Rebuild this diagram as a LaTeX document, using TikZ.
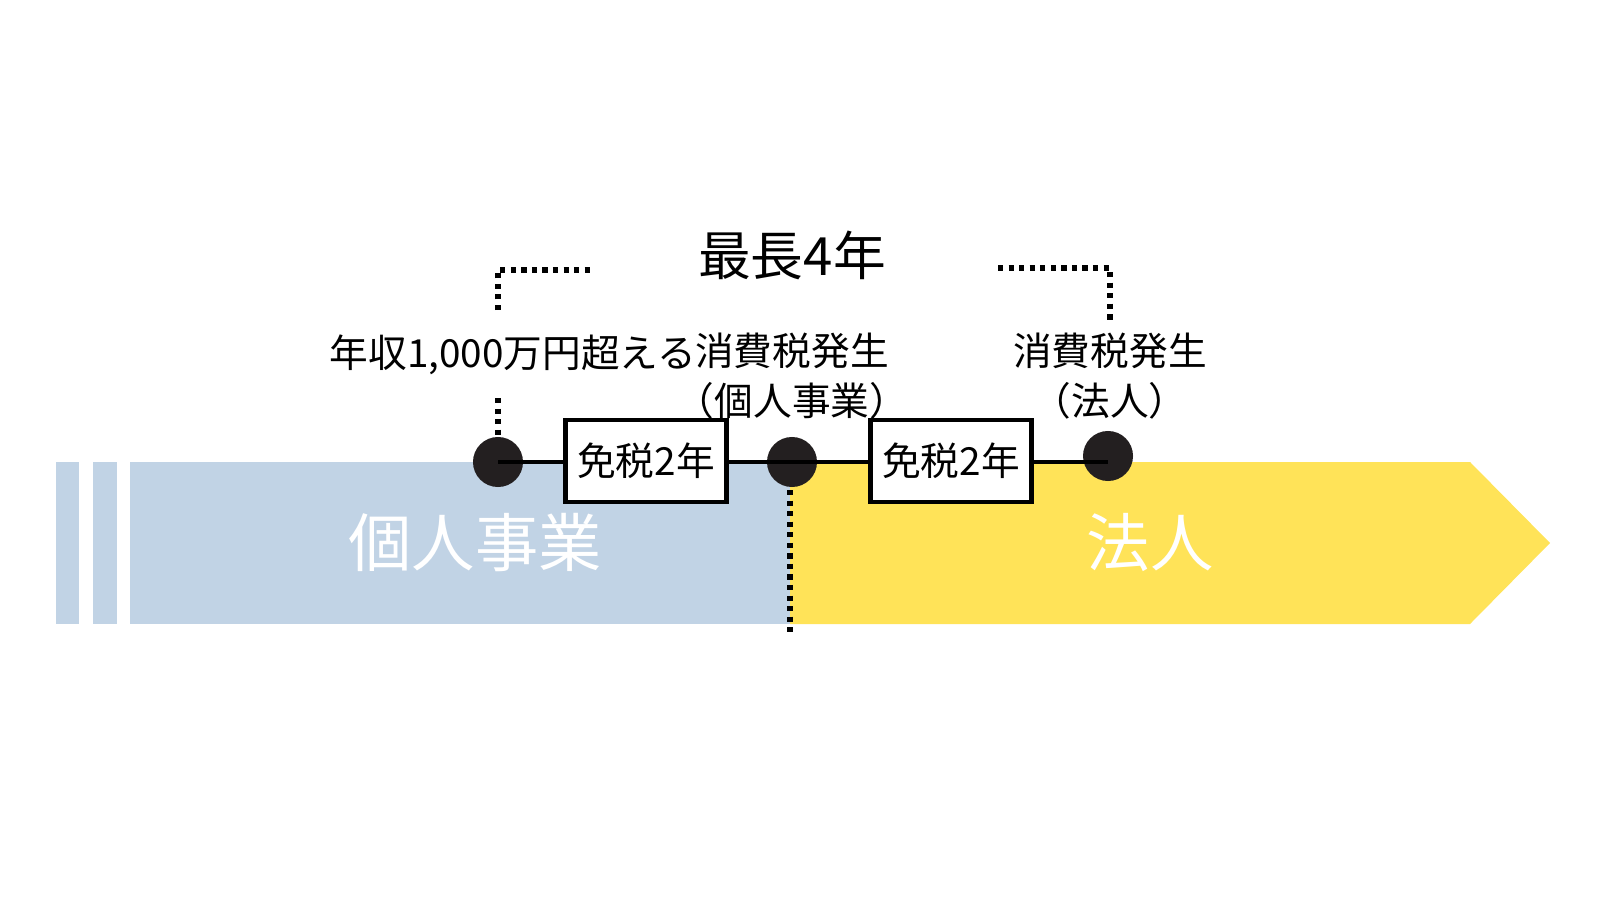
\documentclass[tikz,border=0pt]{standalone}
\usepackage{fontspec}
\setmainfont{Noto Sans CJK JP}
\definecolor{kojinblue}{HTML}{C1D3E5}
\definecolor{hojinyellow}{HTML}{FFE358}
\definecolor{dotblack}{HTML}{231F20}
\tikzset{
  event/.style={circle,fill=dotblack,minimum size=0.5cm,inner sep=0pt},
  taxbox/.style={draw,line width=1.3pt,fill=white,minimum width=1.48cm,minimum height=0.82cm,font=\fontsize{11}{13}\selectfont},
  label/.style={align=center,font=\fontsize{11}{14}\selectfont},
  dotline/.style={line width=1.5pt,dash pattern=on 1.5pt off 1.5pt}
}
\begin{document}
\begin{tikzpicture}[x=0.01cm,y=-0.01cm]
  \useasboundingbox (0,0) rectangle (1600,900);
  % bands
  \fill[kojinblue] (56,462) rectangle (79,624);
  \fill[kojinblue] (93,462) rectangle (117,624);
  \fill[kojinblue] (130,462) rectangle (790,624);
  \fill[hojinyellow] (790,462) -- (1470,462) -- (1550,543) -- (1470,624) -- (790,624) -- cycle;
  \node[white,font=\fontsize{18}{20}\selectfont] (kojin) at (475,543) {個人事業};
  \node[white,font=\fontsize{18}{20}\selectfont] (hojin) at (1150,543) {法人};
  % timeline
  \coordinate (split) at (790,635);
  \node[event] (e1) at (498,462) {};
  \node[event] (e2) at (792,462) {};
  \node[event] (e3) at (1108,456) {};
  \draw[line width=1.3pt] (e1.center) -- (e3.center|-e1.center);
  \node[taxbox] (b1) at (646,461) {免税2年};
  \node[taxbox] (b2) at (951,461) {免税2年};
  \draw[dotline] (790,490) -- (split);
  % labels
  \node[label] (l1) at (513,355) {年収1,000万円超える};
  \node[label] (l2) at (792,376) {消費税発生\\（個人事業）};
  \node[label] (l3) at (1110,376) {消費税発生\\（法人）};
  \node[font=\fontsize{15}{18}\selectfont] (max) at (792,255) {最長4年};
  \coordinate (c1) at (498,398);
  \draw[dotline] (c1) -- (e1.north);
  \draw[dotline] (498,310) -- (498,270) -- (590,270);
  \draw[dotline] (998,268) -- (1110,268) -- (1110,320);
\end{tikzpicture}
\end{document}
